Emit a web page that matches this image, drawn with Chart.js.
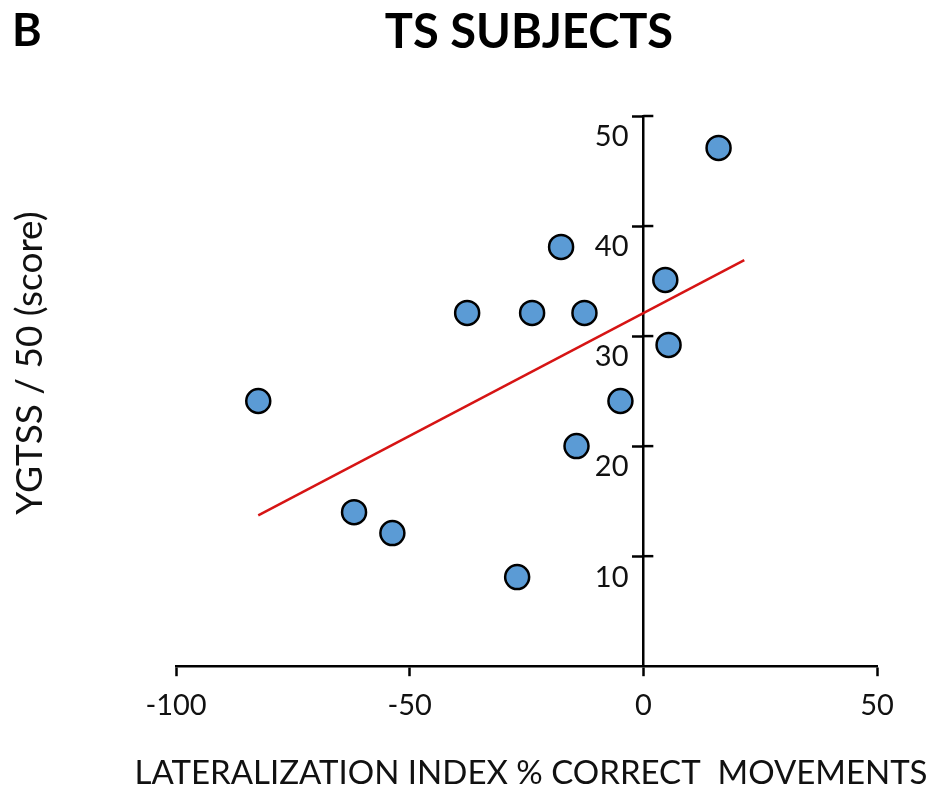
<!DOCTYPE html>
<html>
<head>
<meta charset="utf-8">
<script src="https://cdn.jsdelivr.net/npm/chart.js@4.4.1/dist/chart.umd.min.js"></script>
<style>
  body { margin: 0; background: #fff; }
  #wrap { width: 946px; height: 791px; }
</style>
</head>
<body>
<div id="wrap"><canvas id="tsChart" width="946" height="791"></canvas></div>
<script>
// lateralization index (x) vs YGTSS score (y), one point per subject
var latIndex = [-82.4, -61.9, -53.7, -37.7, -27.0, -23.8, -17.6, -12.6, -14.3, -4.9, 4.7, 5.4, 16.1];
var ygtss    = [24.1, 14.0, 12.1, 32.1, 8.1, 32.1, 38.1, 32.1, 20.0, 24.1, 35.1, 29.2, 47.1];
// regression line end points
var fitX = [-82.4, 21.6];
var fitY = [13.7, 36.9];
var xTicks = [-100, -50, 0, 50];
var yTicks = [10, 20, 30, 40, 50];

var FONT = 'Lato';

// draws the panel letter, heading, axis titles and the right half of the y ticks
// (the x title is wider than the plot area, so Chart.js would squeeze it)
var extras = {
    id: 'extras',
    afterDraw: function(chart) {
        var c = chart.ctx;
        var ys = chart.scales.y;
        var ax = chart.scales.x.getPixelForValue(0);
        c.save();
        c.strokeStyle = '#000';
        c.lineWidth = 2.5;
        yTicks.forEach(function(v) {
            var py = ys.getPixelForValue(v);
            c.beginPath();
            c.moveTo(ax, py);
            c.lineTo(ax + 10, py);
            c.stroke();
        });
        c.fillStyle = '#000';
        c.textBaseline = 'middle';
        c.font = 'bold 45px ' + FONT;
        c.textAlign = 'left';
        c.fillText('B', 12, 31);
        c.font = 'bold 47px ' + FONT;
        c.textAlign = 'center';
        c.fillText('TS SUBJECTS', 529, 33);
        c.fillStyle = '#111';
        c.font = '33px ' + FONT;
        c.fillText('LATERALIZATION INDEX % CORRECT  MOVEMENTS', 531, 773);
        c.translate(30, 363);
        c.rotate(-Math.PI / 2);
        c.font = '37px ' + FONT;
        c.fillText('YGTSS / 50 (score)', 0, 0);
        c.restore();
    }
};

var ctx = document.getElementById('tsChart').getContext('2d');
var tsChart = new Chart(ctx, {
    type: 'scatter',
    data: {
        datasets: [{
            label: 'Subjects',
            data: latIndex.map(function(x, i) { return {x: x, y: ygtss[i]}; }),
            backgroundColor: 'rgb(91,155,213)',
            borderColor: '#000',
            borderWidth: 2.5,
            pointRadius: 12,
            order: 1
        }, {
            type: 'line',
            label: 'Fit',
            data: fitX.map(function(x, i) { return {x: x, y: fitY[i]}; }),
            borderColor: 'rgb(214,20,20)',
            borderWidth: 2.5,
            pointRadius: 0,
            fill: false,
            order: 2
        }]
    },
    options: {
        responsive: false,
        animation: false,
        layout: { padding: { left: 176, right: 69, top: 116, bottom: 56 } },
        plugins: {
            legend: { display: false },
            tooltip: { enabled: false }
        },
        scales: {
            x: {
                type: 'linear',
                min: -100,
                max: 50,
                afterBuildTicks: function(s) { s.ticks = xTicks.map(function(v) { return {value: v}; }); },
                grid: { drawOnChartArea: false, tickLength: 10, tickWidth: 2.5, tickColor: '#000' },
                border: { color: '#000', width: 2.5 },
                ticks: { color: '#111', font: { family: FONT, size: 29 }, padding: 12, maxRotation: 0 }
            },
            y: {
                type: 'linear',
                position: { x: 0 },
                min: 0,
                max: 50,
                afterBuildTicks: function(s) { s.ticks = yTicks.map(function(v) { return {value: v}; }); },
                grid: { drawOnChartArea: false, tickLength: 10, tickWidth: 2.5, tickColor: '#000' },
                border: { color: '#000', width: 2.5 },
                ticks: {
                    color: '#111',
                    font: { family: FONT, size: 29 },
                    labelOffset: 21,
                    // trailing spaces keep the labels clear of the axis line
                    callback: function(v) { return v + '  '; }
                }
            }
        }
    },
    plugins: [extras]
});
</script>
</body>
</html>
